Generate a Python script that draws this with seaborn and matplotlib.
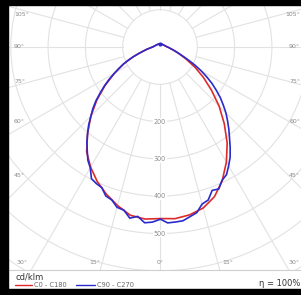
import numpy as np
import pandas as pd
import matplotlib
matplotlib.use("Agg")
import matplotlib.pyplot as plt
import seaborn as sns
from matplotlib.patches import Circle, Rectangle
from matplotlib.lines import Line2D

# luminous intensity (cd/klm) against gamma angle (deg from nadir)
gamma_red = [0, 5, 10, 15, 20, 25, 30, 35, 40, 45, 50, 55, 60, 65, 70, 75, 80, 85, 90,
             100, 120, 150, 180]
red_c0 = [460, 462, 457, 447, 427, 395, 356, 314, 268, 224, 180, 142, 108, 78, 56, 41, 31, 25, 20,
          15, 11, 9, 8]
red_c180 = [460, 463, 458, 440, 420, 398, 372, 343, 302, 262, 221, 180, 141, 108, 76, 51, 36, 26, 20,
            15, 11, 9, 8]

gamma_blue = [0, 2.5, 5, 7.5, 10, 12.5, 15, 17.5, 20, 22.5, 25, 27.5, 30, 32.5, 35, 37.5, 40,
              42.5, 45, 47.5, 50, 52.5, 55, 57.5, 60, 62.5, 65, 67.5, 70, 72.5, 75, 77.5, 80,
              82.5, 85, 87.5, 90, 100, 120, 150, 180]
blue_c90 = [461, 472, 471, 470, 462, 455, 436, 430, 409, 412, 394, 386, 368, 350, 328, 306, 287,
            268, 250, 230, 211, 190, 170, 148, 127, 106, 86, 70, 58, 49, 42, 36, 31,
            27, 25, 22, 20, 15, 11, 9, 8]
blue_c270 = [462, 470, 473, 458, 466, 448, 445, 430, 425, 408, 404, 398, 374, 360, 340, 322, 302,
             283, 262, 244, 224, 202, 182, 162, 142, 124, 108, 92, 76, 62, 50, 42, 36,
             30, 26, 22, 20, 15, 11, 9, 8]

ring_values = [100, 200, 300, 400, 500, 600, 700, 800, 900, 1000]
ring_labels = [200, 300, 400, 500]
ray_angles = list(range(0, 360, 15))

# angle labels: text, pixel x, pixel y, horizontal alignment
angle_labels = [
    ("105°", 14, 15, "left"), ("90°", 14, 46, "left"), ("75°", 14, 81, "left"),
    ("60°", 14, 121, "left"), ("45°", 14, 175, "left"), ("30°", 17, 263, "left"),
    ("15°", 95, 263, "center"), ("0°", 160, 263, "center"), ("15°", 228, 263, "center"),
    ("30°", 300, 263, "right"), ("45°", 300, 175, "right"), ("60°", 300, 121, "right"),
    ("75°", 300, 81, "right"), ("90°", 300, 46, "right"), ("105°", 300, 15, "right"),
]

W, H = 301, 295
CX, CY = 160, 47          # pixel position of the lamp centre
K = 100 / 37.3            # cd/klm per pixel


def px2data(px, py):
    return (px - CX) * K, (CY - py) * K


def curve(gamma, right, left):
    g = np.radians(np.array(gamma, dtype=float))
    r_right = np.array(right, dtype=float)
    r_left = np.array(left, dtype=float)
    xl = -r_left * np.sin(g)
    yl = -r_left * np.cos(g)
    xr = r_right * np.sin(g)
    yr = -r_right * np.cos(g)
    return pd.DataFrame({"x": np.concatenate([xl[::-1], xr]),
                         "y": np.concatenate([yl[::-1], yr])})


sns.set_style("white")
plt.rcParams["font.family"] = ["DejaVu Sans"]

fig = plt.figure(figsize=(W / 100, H / 100), dpi=100)
fig.patch.set_facecolor("white")

ax = fig.add_axes([9 / W, 25 / H, (W - 9) / W, (270 - 6) / H])
x0, _ = px2data(9, 0)
x1, _ = px2data(W, 0)
_, ytop = px2data(0, 6)
_, ybot = px2data(0, 270)
ax.set_xlim(x0, x1)
ax.set_ylim(ybot, ytop)
ax.set_xticks([])
ax.set_yticks([])
for s in ["top", "left", "right"]:
    ax.spines[s].set_visible(False)
ax.spines["bottom"].set_color("#cfcfcf")
ax.spines["bottom"].set_linewidth(0.8)

grid_col = "#e2e2e2"
for rv in ring_values:
    ax.add_patch(Circle((0, 0), rv, fill=False, ec=grid_col, lw=0.8, zorder=1))
for a in ray_angles:
    t = np.radians(a)
    ax.plot([100 * np.sin(t), 1200 * np.sin(t)], [-100 * np.cos(t), -1200 * np.cos(t)],
            color=grid_col, lw=0.8, zorder=1)

for rv in ring_labels:
    ax.text(0, -rv, str(rv), ha="center", va="center", fontsize=4.7, color="#8a8a8a",
            bbox=dict(boxstyle="square,pad=0.1", fc="white", ec="none"), zorder=2)

for txt, px, py, ha in angle_labels:
    xd, yd = px2data(px, py)
    ax.text(xd, yd, txt, ha=ha, va="center", fontsize=4.5, color="#8a8a8a", zorder=2)

red_df = curve(gamma_red, red_c0, red_c180)
blue_df = curve(gamma_blue, blue_c90, blue_c270)
sns.lineplot(data=red_df, x="x", y="y", sort=False, estimator=None, color="#dd2b2b",
             lw=1.2, ax=ax, zorder=3)
sns.lineplot(data=blue_df, x="x", y="y", sort=False, estimator=None, color="#2b2bcc",
             lw=1.2, ax=ax, zorder=4)
ax.plot(0, red_c0[-1], marker="o", ms=2, color="#2b2bcc", zorder=5)
ax.set_xlabel("")
ax.set_ylabel("")


def fx(px):
    return px / W


def fy(py):
    return 1 - py / H


# legend strip
fig.text(fx(15), fy(277), "cd/klm", fontsize=6, color="#333333", va="center", ha="left")
fig.add_artist(Line2D([fx(15), fx(32)], [fy(285), fy(285)], color="#dd2b2b", lw=1.0))
fig.text(fx(34), fy(285), "C0 - C180", fontsize=4.8, color="#666666", va="center")
fig.add_artist(Line2D([fx(76), fx(95)], [fy(285), fy(285)], color="#2b2bcc", lw=1.0))
fig.text(fx(97), fy(285), "C90 - C270", fontsize=4.8, color="#666666", va="center")
fig.text(fx(300), fy(283), "η = 100%", fontsize=6, color="#333333", va="center", ha="right")

# black frame
fig.add_artist(Rectangle((0, 0), fx(8), 1, transform=fig.transFigure, color="black"))
fig.add_artist(Rectangle((0, fy(5)), 1, 5 / H, transform=fig.transFigure, color="black"))
fig.add_artist(Rectangle((0, 0), 1, 6 / H, transform=fig.transFigure, color="black"))

fig.savefig("out.png", dpi=100)
plt.close(fig)
